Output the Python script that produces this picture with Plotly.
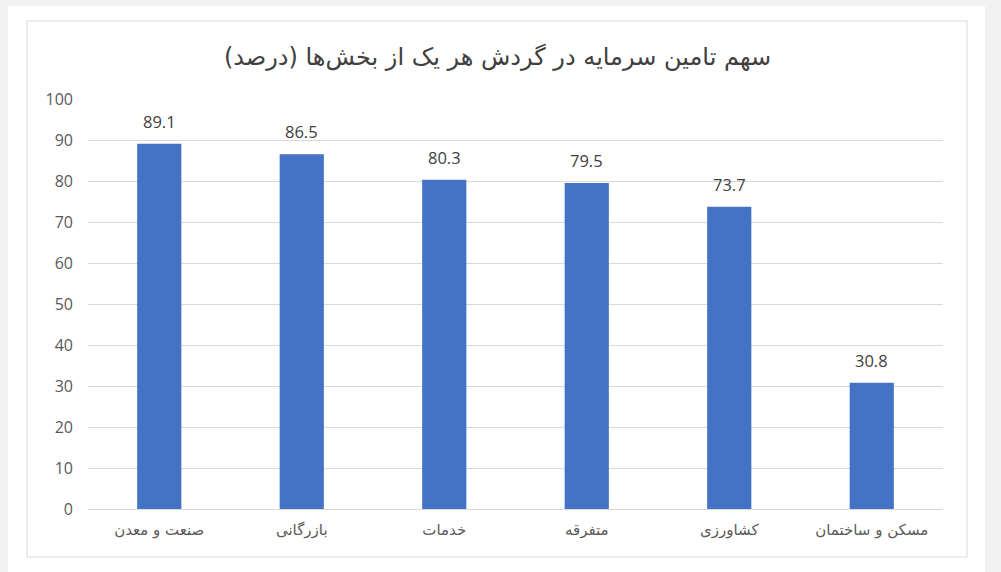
import plotly.graph_objects as go

categories = ["صنعت و معدن", "بازرگانی", "خدمات", "متفرقه", "کشاورزی", "مسکن و ساختمان"]
values = [89.1, 86.5, 80.3, 79.5, 73.7, 30.8]
title_text = "سهم تامین سرمایه در گردش هر یک از بخش‌ها (درصد)"

W, H = 1001, 572
L, R, T, B = 88, 943, 99, 509
pw, ph = R - L, B - T

def px(x):
    return (x - L) / pw

def py(y):
    return (B - y) / ph

fig = go.Figure()
fig.add_trace(go.Bar(
    x=categories, y=values,
    marker=dict(color="#4472C4", line=dict(width=0)),
    width=0.31,
    hoverinfo="x+y",
))

for c, v in zip(categories, values):
    fig.add_annotation(x=c, y=v, text=f"{v:.1f}", showarrow=False,
                       yanchor="bottom", yshift=9,
                       font=dict(family="Open Sans", size=16.5, color="#404040"))

shapes = [
    dict(type="rect", xref="paper", yref="paper", layer="below",
         x0=px(8), x1=px(985), y0=py(575), y1=py(6),
         fillcolor="white", line=dict(width=0)),
    dict(type="rect", xref="paper", yref="paper", layer="below",
         x0=px(27), x1=px(967), y0=py(557), y1=py(21),
         fillcolor="white", line=dict(color="#d9d9d9", width=1)),
]

fig.update_layout(
    width=W, height=H,
    margin=dict(l=L, r=W - R, t=T, b=H - B),
    paper_bgcolor="#f2f2f2",
    plot_bgcolor="rgba(0,0,0,0)",
    shapes=shapes,
    showlegend=False,
    bargap=0.69,
    title=dict(text=title_text, x=0.497, xref="container", xanchor="center",
               y=1 - 57 / H, yref="container", yanchor="middle",
               font=dict(family="DejaVu Sans", size=24, color="#404040")),
    xaxis=dict(showgrid=False, showline=False, ticks="",
               tickfont=dict(family="DejaVu Sans", size=15, color="#595959"),
               ticklabelstandoff=10),
    yaxis=dict(range=[0, 100], dtick=10, showgrid=True, gridcolor="#d9d9d9",
               gridwidth=1, zeroline=True, zerolinecolor="#d9d9d9", zerolinewidth=1,
               showline=False, ticks="",
               tickfont=dict(family="Open Sans", size=16, color="#595959"),
               ticklabelstandoff=14),
)

fig.write_html("out.html", config={"displayModeBar": False},
               post_script="document.body.style.margin='0';document.body.style.background='#f2f2f2';")
